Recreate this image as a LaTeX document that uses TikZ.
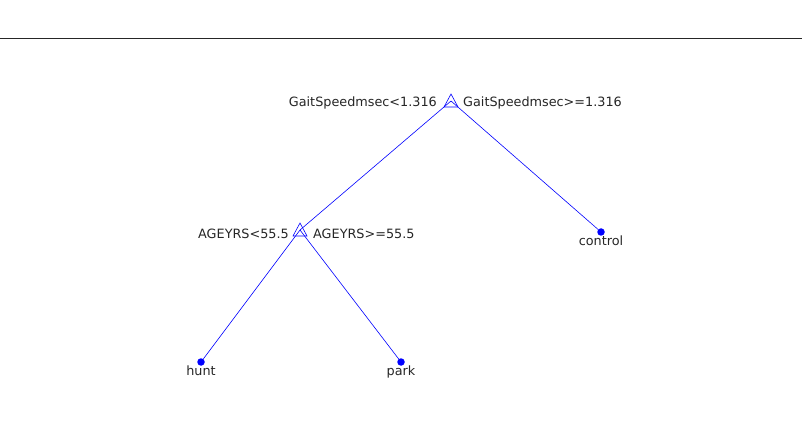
\documentclass[tikz,border=0pt]{standalone}
\usepackage{fontspec}
\setmainfont{DejaVu Sans}
\usetikzlibrary{calc}
\begin{document}
\begin{tikzpicture}[x=1pt,y=-1pt,
  lbl/.style={inner sep=0pt,font=\fontsize{12.8}{14}\selectfont,text=black!85},
  edge/.style={draw=blue,line width=0.6pt},
  tri/.style={draw=blue,line width=0.6pt},
  leaf/.style={circle,fill=blue,inner sep=0pt,minimum size=7.5pt}]
\useasboundingbox (0,0) rectangle (802,427);
\draw[line width=0.9pt,black!85] (0,38) -- (802,38);
% decision nodes
\coordinate (root) at (451,101);
\coordinate (age) at (300,230);
\node[leaf] (control) at (601,232) {};
\node[leaf] (hunt) at (201,362) {};
\node[leaf] (park) at (401,362) {};
\draw[edge] (root) -- (age);
\draw[edge] (root) -- (control);
\draw[edge] (age) -- (hunt);
\draw[edge] (age) -- (park);
\draw[tri] ($(root)+(0,-7)$) -- ($(root)+(7,6)$) -- ($(root)+(-7,6)$) -- cycle;
\draw[tri] ($(age)+(0,-7)$) -- ($(age)+(7,6)$) -- ($(age)+(-7,6)$) -- cycle;
\node[lbl,anchor=east] (rl) at (437,102.5) {GaitSpeedmsec<1.316};
\node[lbl,anchor=west] (rr) at (463,102.5) {GaitSpeedmsec>=1.316};
\node[lbl,anchor=east] (al) at (289,233.5) {AGEYRS<55.5};
\node[lbl,anchor=west] (ar) at (313,233.5) {AGEYRS>=55.5};
\node[lbl,anchor=north] (controlt) at (601,235.5) {control};
\node[lbl,anchor=north] (huntt) at (201,365.5) {hunt};
\node[lbl,anchor=north] (parkt) at (401,365.5) {park};
\end{tikzpicture}
\end{document}
